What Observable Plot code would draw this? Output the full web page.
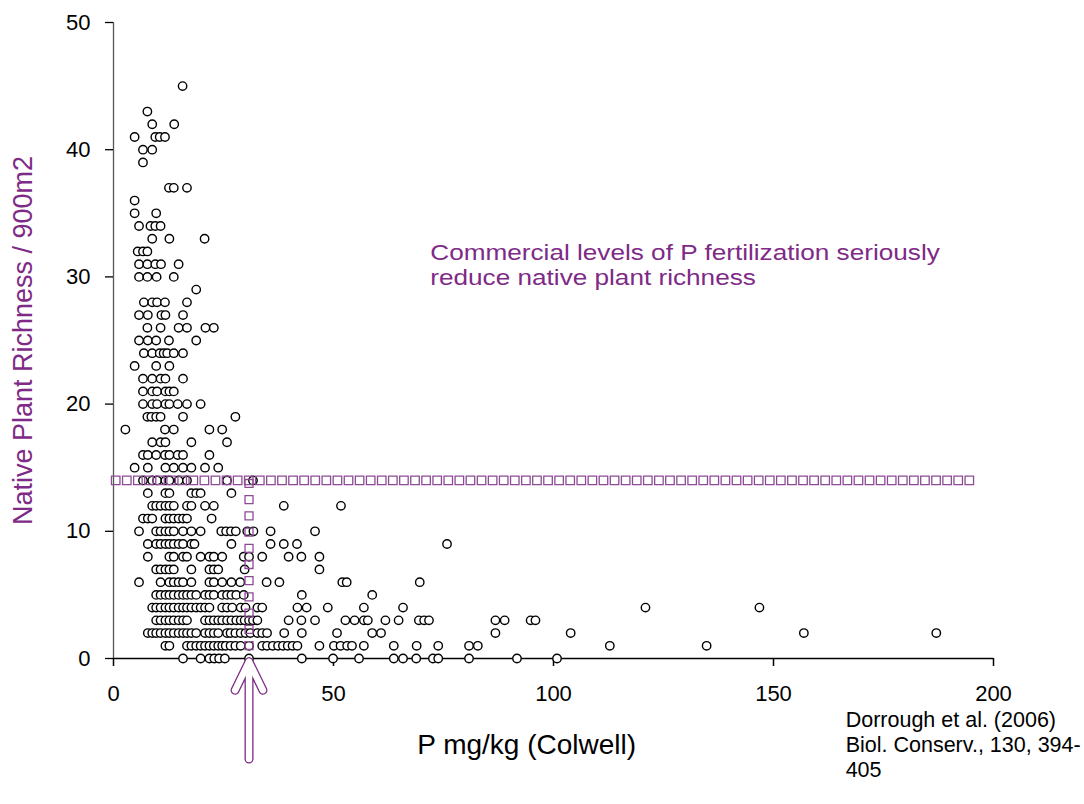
<!DOCTYPE html>
<html>
<head>
<meta charset="utf-8">
<script src="https://cdn.jsdelivr.net/npm/d3@7"></script>
<script src="https://cdn.jsdelivr.net/npm/@observablehq/plot@0.6"></script>
<style>
  html, body { margin: 0; padding: 0; background: #fff; }
  #chart { width: 1084px; height: 804px; }
</style>
</head>
<body>
<div id="chart"></div>
<script>
// Native plant richness (per 900 m2) vs P (mg/kg, Colwell); P values listed per richness level
const rich45 = [15.7];
const rich43 = [7.7];
const rich42 = [8.8, 13.8];
const rich41 = [4.8, 9.5, 10.5, 11.7];
const rich40 = [6.7, 8.8];
const rich39 = [6.7];
const rich37 = [12.6, 13.7, 16.7];
const rich36 = [4.8];
const rich35 = [4.8, 9.7];
const rich34 = [5.8, 8.4, 9.5, 10.7];
const rich33 = [8.8, 12.7, 20.7];
const rich32 = [5.5, 6.7, 7.7];
const rich31 = [5.8, 7.7, 9.5, 10.8, 14.8];
const rich30 = [5.8, 7.7, 9.8, 13.7];
const rich29 = [18.8];
const rich28 = [6.9, 8.8, 9.9, 11.7, 16.7];
const rich27 = [5.8, 7.8, 10.9, 11.8, 15.8];
const rich26 = [7.7, 10.7, 14.8, 16.7, 20.9, 22.8];
const rich25 = [5.8, 7.8, 9.7, 12.6, 18.8];
const rich24 = [6.9, 8.8, 10.5, 11.4, 12.2, 13.7, 15.8];
const rich23 = [4.8, 9.7, 12.7];
const rich22 = [6.7, 8.8, 10.7, 11.8, 15.8];
const rich21 = [6.7, 8.8, 9.9, 11.8, 12.7, 13.7];
const rich20 = [6.7, 8.8, 9.9, 11.8, 12.7, 14.6, 16.7, 19.8];
const rich19 = [7.7, 8.6, 9.7, 10.7, 15.8, 27.7];
const rich18 = [2.7, 11.7, 13.7, 21.8, 24.7];
const rich17 = [8.8, 10.7, 11.8, 17.7, 25.8];
const rich16 = [6.7, 7.8, 9.7, 11.7, 12.7, 14.6, 15.8, 21.8];
const rich15 = [4.8, 7.8, 11.8, 13.7, 15.8, 17.7, 20.8, 23.8];
const rich14 = [6.7, 8.8, 9.9, 11.8, 12.7, 14.8, 16.7, 25.8, 31.7];
const rich13 = [7.8, 11.8, 12.7, 17.7, 18.8, 19.8, 26.8];
const rich12 = [8.8, 9.7, 10.7, 11.8, 12.7, 13.7, 16.7, 17.7, 20.8, 22.8, 38.7, 51.7];
const rich11 = [6.7, 7.8, 8.8, 11.8, 12.7, 13.7, 14.8, 15.8, 16.7, 22.3];
const rich10 = [5.8, 9.7, 10.7, 11.8, 12.7, 13.7, 15.8, 17.7, 19.8, 24.5, 25.6, 26.7, 27.8, 30.4, 31.8, 35.7, 45.8];
const rich9 = [7.8, 9.7, 10.7, 11.8, 12.7, 13.7, 14.8, 15.8, 17.7, 18.4, 26.8, 35.7, 38.7, 41.7, 75.8];
const rich8 = [7.8, 12.7, 13.7, 15.8, 16.7, 19.8, 21.8, 22.8, 24.7, 29.6, 30.8, 33.8, 39.8, 42.7, 46.8];
const rich7 = [9.7, 10.7, 11.8, 12.7, 13.7, 17.7, 21.8, 22.8, 23.8, 29.8, 46.8];
const rich6 = [5.8, 10.7, 12.7, 13.7, 14.8, 15.8, 17.7, 21.8, 22.8, 24.7, 26.8, 28.8, 34.8, 37.7, 52.0, 53.0, 69.6];
const rich5 = [9.7, 10.7, 11.8, 12.7, 13.7, 14.8, 15.8, 16.7, 17.7, 18.8, 20.8, 21.8, 22.8, 24.7, 25.8, 26.8, 27.9, 29.6, 42.8, 58.8];
const rich4 = [8.8, 9.7, 10.7, 11.8, 12.7, 13.7, 14.8, 15.8, 16.7, 17.7, 18.8, 19.8, 20.8, 21.8, 24.7, 25.8, 27.0, 28.9, 30.0, 32.7, 33.8, 41.8, 43.9, 48.7, 56.9, 65.8, 120.9, 146.8];
const rich3 = [9.7, 10.7, 11.8, 12.7, 13.7, 14.8, 15.8, 16.7, 20.8, 21.8, 22.8, 23.8, 24.7, 25.8, 26.8, 27.9, 28.9, 29.8, 30.8, 31.7, 32.7, 39.8, 42.7, 45.8, 52.7, 54.8, 56.9, 57.8, 61.8, 64.8, 69.4, 70.6, 71.7, 86.8, 88.9, 94.8, 95.9];
const rich2 = [7.8, 8.8, 9.7, 10.7, 11.8, 12.7, 13.7, 14.8, 15.8, 16.7, 17.7, 18.8, 20.8, 21.8, 22.8, 23.8, 25.8, 26.6, 27.7, 28.9, 30.0, 31.1, 32.7, 33.8, 34.9, 38.8, 42.8, 50.8, 58.8, 60.8, 86.8, 103.9, 156.9, 187.0];
const rich1 = [11.8, 12.7, 16.7, 17.7, 18.8, 19.8, 20.8, 21.8, 22.8, 23.8, 24.7, 25.5, 26.6, 27.7, 28.9, 30.8, 33.8, 34.9, 36.2, 37.4, 38.5, 39.6, 40.7, 41.8, 46.8, 50.1, 51.6, 53.1, 54.2, 56.9, 63.7, 68.9, 73.8, 80.8, 82.8, 112.8, 134.8];
const rich0 = [15.8, 19.8, 21.8, 22.9, 24.0, 25.3, 30.8, 42.8, 49.9, 55.8, 63.7, 65.8, 68.8, 72.6, 73.8, 80.8, 91.7, 100.8];

const richnessRows = [
  [45, rich45], [43, rich43], [42, rich42], [41, rich41], [40, rich40], [39, rich39],
  [37, rich37], [36, rich36], [35, rich35], [34, rich34], [33, rich33], [32, rich32],
  [31, rich31], [30, rich30], [29, rich29], [28, rich28], [27, rich27], [26, rich26],
  [25, rich25], [24, rich24], [23, rich23], [22, rich22], [21, rich21], [20, rich20],
  [19, rich19], [18, rich18], [17, rich17], [16, rich16], [15, rich15], [14, rich14],
  [13, rich13], [12, rich12], [11, rich11], [10, rich10], [9, rich9], [8, rich8],
  [7, rich7], [6, rich6], [5, rich5], [4, rich4], [3, rich3], [2, rich2], [1, rich1], [0, rich0]
];

const xTicks = [0, 50, 100, 150, 200];
const yTicks = [0, 10, 20, 30, 40, 50];

// Threshold guide: commercial P level and corresponding richness
const thresholdP = 30.8;
const thresholdRichness = 14;
const guideEndP = 194.5;

const xLabel = "P mg/kg (Colwell)";
const yLabel = "Native Plant Richness / 900m2";
const noteLines = ["Commercial levels of P fertilization seriously", "reduce native plant richness"];
const citeText = "Dorrough et al. (2006)\nBiol. Conserv., 130, 394-\n405";

const purple = "#7e2a86";
const guidePurple = "#8c4c94";

const points = richnessRows
  .flatMap(([r, ps]) => ps.map(p => ({p, r})))
  .sort((a, b) => a.p - b.p);

// square markers along the dashed guides
const hGuide = d3.range(78).map(i => ({p: 0.5 + i * (guideEndP - 0.5) / 77, r: thresholdRichness}));
const vGuide = d3.range(11).map(i => ({p: thresholdP, r: 13.76 - i * (13.76 - 1.02) / 10}));

const arrowData = [{x: thresholdP, y1: -7.9, y2: -0.25}];

const chart = Plot.plot({
  width: 1084,
  height: 804,
  marginLeft: 113,
  marginRight: 91,
  marginTop: 22,
  marginBottom: 146,
  x: {domain: [0, 200], axis: null},
  y: {domain: [0, 50], axis: null},
  style: {fontFamily: "'Liberation Sans', Arial, Helvetica, sans-serif", background: "white", color: "black"},
  marks: [
    Plot.ruleX([0], {y1: 0, y2: 50, stroke: "#555", strokeWidth: 1.3}),
    Plot.ruleY([0], {x1: 0, x2: 200, stroke: "black", strokeWidth: 1.5}),
    Plot.axisX({ticks: xTicks, tickSize: 8, tickPadding: 19, fontSize: 22, label: null, strokeWidth: 1.5}),
    Plot.axisY({ticks: yTicks, tickSize: 8, tickPadding: 15, fontSize: 22, label: null, strokeWidth: 1.3}),
    Plot.dot(points, {x: "p", y: "r", r: 4.2, stroke: "black", strokeWidth: 1.4, fill: "white"}),
    Plot.dot(hGuide, {x: "p", y: "r", symbol: "square", r: 4.8, stroke: guidePurple, strokeWidth: 1.3, fill: "none"}),
    Plot.dot(vGuide, {x: "p", y: "r", symbol: "square", r: 4.5, stroke: guidePurple, strokeWidth: 1.3, fill: "none"}),
    Plot.arrow(arrowData, {x: "x", y1: "y1", y2: "y2", stroke: purple, strokeWidth: 9, headLength: 5.3, headAngle: 52, strokeLinecap: "round", strokeLinejoin: "round"}),
    Plot.arrow(arrowData, {x: "x", y1: "y1", y2: "y2", stroke: "white", strokeWidth: 6.4, headLength: 7.45, headAngle: 52, strokeLinecap: "round", strokeLinejoin: "round"}),
    Plot.text(noteLines, {x: 72, y: (d, i) => 31.9 - i * 1.99, text: d => d, textAnchor: "start", lineAnchor: "middle", fontSize: 21.8, fill: purple}),
    Plot.text([xLabel], {x: 93.9, y: -6.84, text: d => d, textAnchor: "middle", lineAnchor: "middle", fontSize: 28, fill: "black"}),
    Plot.text([yLabel], {x: -20.6, y: 25, text: d => d, rotate: -90, textAnchor: "middle", lineAnchor: "middle", fontSize: 27, fill: purple}),
    Plot.text([citeText], {x: 166.4, y: -6.72, text: d => d, textAnchor: "start", lineAnchor: "middle", lineHeight: 1.16, fontSize: 21.5, fill: "black"})
  ]
});

// widen the annotation lines horizontally (the original lettering is wide)
d3.select(chart).selectAll("text").each(function () {
  const t = this.textContent;
  if (!noteLines.includes(t)) return;
  const tr = this.getAttribute("transform");
  if (tr) {
    this.setAttribute("transform", tr + " scale(1.2,1)");
  } else {
    const x = +this.getAttribute("x") || 0, y = +this.getAttribute("y") || 0;
    this.removeAttribute("x"); this.removeAttribute("y");
    this.setAttribute("transform", `translate(${x},${y}) scale(1.2,1)`);
  }
});

document.getElementById("chart").appendChild(chart);
</script>
</body>
</html>
